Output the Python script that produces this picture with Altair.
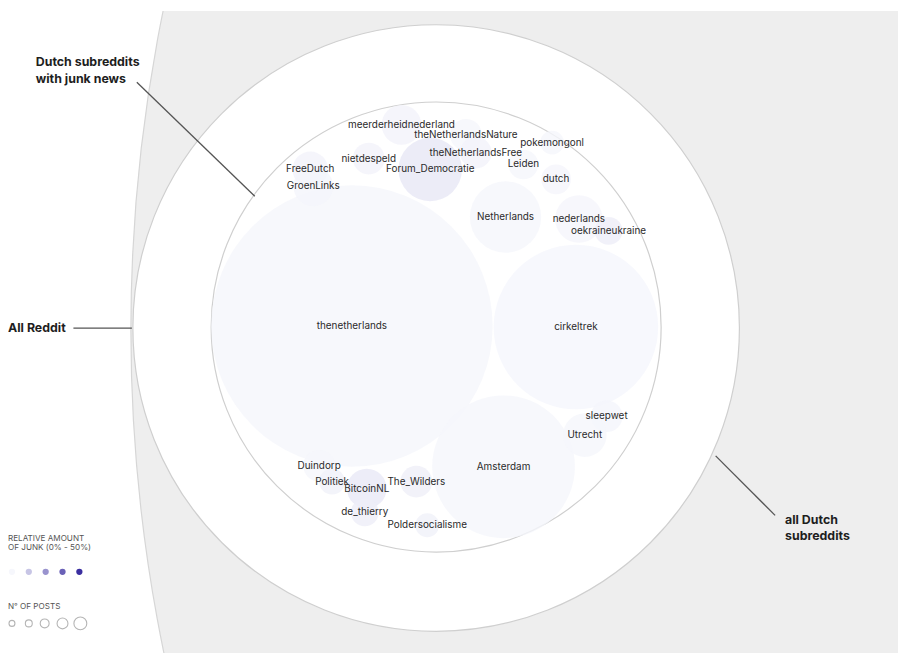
import altair as alt
import pandas as pd

W, H = 898, 648
FONT = "Inter"

# ---- nested containers (layout centre / radius in page pixels)
ring_names = ["All Reddit", "all Dutch subreddits", "Dutch subreddits with junk news"]
ring_x = [1738, 440, 440]
ring_y = [330, 328, 327]
ring_r = [1606, 306, 227]

# ---- subreddits with junk news (packed layout, estimated junk share in %)
subs = ["thenetherlands", "cirkeltrek", "Amsterdam", "Netherlands", "nederlands",
        "oekraineukraine", "Forum_Democratie", "meerderheidnederland",
        "theNetherlandsNature", "pokemongonl", "theNetherlandsFree", "Leiden", "dutch",
        "nietdespeld", "FreeDutch", "GroenLinks", "Duindorp", "Politiek", "BitcoinNL",
        "The_Wilders", "de_thierry", "Poldersocialisme", "sleepwet", "Utrecht"]
sub_x = [355, 581, 508, 510, 584, 614, 434, 405, 470, 557, 480, 528, 561, 372, 313, 316,
         322, 335, 370, 420, 368, 431, 612, 590]
sub_y = [326, 327, 468, 216, 218, 230, 168, 123, 133, 141, 151, 163, 178, 157, 168, 185,
         467, 483, 490, 483, 514, 527, 417, 436]
sub_r = [142, 83, 72, 36, 24, 14, 32, 20, 16, 12, 16, 15, 15, 16, 18, 20,
         16, 13, 20, 16, 14, 12, 16, 22]
sub_junk = [0.3, 0.2, 0.3, 0.3, 0.4, 2.5, 4.0, 1.2, 0.3, 0.3, 1.0, 0.3, 0.4, 1.2, 1.0, 0.5,
            0.3, 1.5, 3.5, 2.0, 2.2, 1.5, 0.5, 0.3]

# ---- annotations
ann_text = ["Dutch subreddits", "with junk news", "All Reddit", "all Dutch", "subreddits"]
ann_x = [36, 36, 8, 792, 792]
ann_y = [60, 77, 328, 522, 538]
lead_x = [138, 74, 722]
lead_y = [80, 328, 457]
lead_x2 = [257, 133, 782]
lead_y2 = [195, 328, 517]

# ---- legend
leg_titles = ["RELATIVE AMOUNT", "OF JUNK (0% - 50%)", "N° OF POSTS"]
leg_tx = [8, 8, 8]
leg_ty = [541, 550, 609]
leg_junk = [0, 12.5, 25, 37.5, 50]
leg_jx = [12, 29, 46, 63, 80]
leg_jy = [574, 574, 574, 574, 574]
leg_posts_r = [3, 3.5, 4.5, 5.5, 6.5]
leg_px = [12, 29, 45, 63, 81]
leg_py = [626, 626, 626, 626, 626]

xs = alt.Scale(domain=[8, 8 + W], nice=False, zero=False)
ys = alt.Scale(domain=[8, 8 + H], nice=False, zero=False, reverse=True)
cs = alt.Scale(domain=[0, 50], range=["#f6f7fc", "#3b2fa0"], interpolate="rgb")


def X(f="x"):
    return alt.X(f"{f}:Q", scale=xs, axis=None)


def Y(f="y"):
    return alt.Y(f"{f}:Q", scale=ys, axis=None)


rings = pd.DataFrame({"name": ring_names, "x": ring_x, "y": ring_y, "r": ring_r})
outer = alt.Chart(rings.iloc[[0]]).mark_point(
    shape="circle", filled=True, fill="#eeeeee", stroke="#d6d6d6", strokeWidth=1.2,
    opacity=1, clip=True
).transform_calculate(s="pow(2*datum.r, 2)").encode(x=X(), y=Y(), size=alt.Size("s:Q", scale=None))

inner = alt.Chart(rings.iloc[[1, 2]]).mark_point(
    shape="circle", filled=True, fill="#ffffff", stroke="#cfcfcf", strokeWidth=1.2, opacity=1
).transform_calculate(s="pow(2*datum.r, 2)").encode(x=X(), y=Y(), size=alt.Size("s:Q", scale=None))

sdf = pd.DataFrame({"name": subs, "x": sub_x, "y": sub_y, "r": sub_r, "junk": sub_junk})
bubbles = alt.Chart(sdf).mark_point(
    shape="circle", filled=True, opacity=0.8, strokeWidth=0
).transform_calculate(s="pow(2*datum.r, 2)").encode(
    x=X(), y=Y(), size=alt.Size("s:Q", scale=None),
    fill=alt.Fill("junk:Q", scale=cs, legend=None))

labels = alt.Chart(sdf).mark_text(
    font=FONT, fontSize=10, color="#2a2a2a", align="center", baseline="middle"
).encode(x=X(), y=Y(), text="name:N")

adf = pd.DataFrame({"t": ann_text, "x": ann_x, "y": ann_y})
ann = alt.Chart(adf).mark_text(
    font=FONT, fontSize=12.5, fontWeight=700, color="#1e1e1e", align="left",
    baseline="middle"
).encode(x=X(), y=Y(), text="t:N")

ldf = pd.DataFrame({"x": lead_x, "y": lead_y, "x2": lead_x2, "y2": lead_y2})
leads = alt.Chart(ldf).mark_rule(color="#555555", strokeWidth=1.3).encode(
    x=X(), y=Y(), x2="x2:Q", y2="y2:Q")

ltdf = pd.DataFrame({"t": leg_titles, "x": leg_tx, "y": leg_ty})
leg_text = alt.Chart(ltdf).mark_text(
    font=FONT, fontSize=8.2, color="#555555", align="left", baseline="middle"
).encode(x=X(), y=Y(), text="t:N")

ljdf = pd.DataFrame({"junk": leg_junk, "x": leg_jx, "y": leg_jy})
leg_junk_dots = alt.Chart(ljdf).mark_point(
    shape="circle", filled=True, size=40, opacity=1, strokeWidth=0
).encode(x=X(), y=Y(), fill=alt.Fill("junk:Q", scale=cs, legend=None))

lpdf = pd.DataFrame({"r": leg_posts_r, "x": leg_px, "y": leg_py})
leg_posts = alt.Chart(lpdf).mark_point(
    shape="circle", filled=False, stroke="#b5b5b5", strokeWidth=1.1, opacity=1
).transform_calculate(s="pow(2*datum.r, 2)").encode(
    x=X(), y=Y(), size=alt.Size("s:Q", scale=None))

chart = alt.layer(
    outer, inner, bubbles, labels, leads, ann, leg_text, leg_junk_dots, leg_posts
).properties(
    width=W, height=H, padding=0, autosize=alt.AutoSizeParams(type="none"),
    background="#ffffff"
).configure_view(strokeWidth=0)

chart.save("out.html", embed_options={"renderer": "svg", "actions": False})
